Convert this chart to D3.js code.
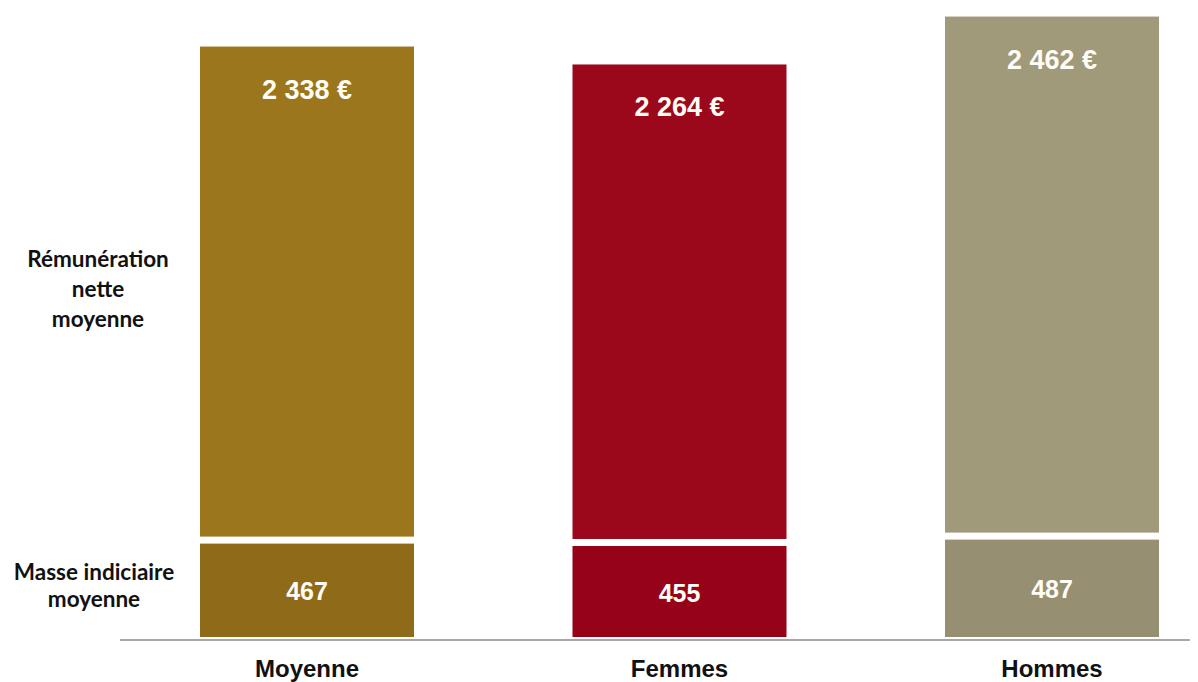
<!DOCTYPE html>
<html lang="fr">
<head>
<meta charset="UTF-8">
<title>Rémunération</title>
<script src="https://d3js.org/d3.v7.min.js"></script>
<style>
  body { margin: 0; background: #fff; }
  svg text { font-family: "Liberation Sans", Arial, sans-serif; font-weight: bold; }
  .side { font-family: Lato, "Open Sans", sans-serif; fill: #111; }
</style>
</head>
<body>
<script>
  // data
  var categories = ["Moyenne", "Femmes", "Hommes"]
  var remuneration = [2338, 2264, 2462]   // rémunération nette moyenne (€)
  var masse = [467, 455, 487]             // masse indiciaire moyenne
  var remLabels = ["2 338 €", "2 264 €", "2 462 €"]
  var topColors = ["#9c761c", "#9b081c", "#a0997a"]
  var bottomColors = ["#8f6a19", "#960218", "#968f72"]

  var W = 1198, H = 682
  var baseY = 637
  var gap = 7

  const svg = d3.select("body").append("svg")
    .attr("width", W)
    .attr("height", H)

  var x = d3.scaleBand()
    .domain(categories)
    .range([200, 1159])
    .paddingInner(0.4255)
    .paddingOuter(0)

  // two stacked blocks, each with its own linear scale (px height)
  var hMasse = d3.scaleLinear().domain([0, 500]).range([0, 100])
  var hRem = d3.scaleLinear().domain([0, 2500]).range([0, 524])

  var rows = categories.map(function (c, i) {
    var mTop = baseY - hMasse(masse[i])
    var rBottom = mTop - gap
    var rTop = rBottom - hRem(remuneration[i])
    return { cat: c, i: i, mTop: mTop, rBottom: rBottom, rTop: rTop }
  })

  // bottom block
  svg.selectAll(".masse")
    .data(rows)
    .enter().append("rect")
    .attr("class", "masse")
    .attr("x", d => x(d.cat))
    .attr("width", x.bandwidth())
    .attr("y", d => d.mTop)
    .attr("height", d => baseY - d.mTop)
    .attr("fill", d => bottomColors[d.i])

  // top block
  svg.selectAll(".rem")
    .data(rows)
    .enter().append("rect")
    .attr("class", "rem")
    .attr("x", d => x(d.cat))
    .attr("width", x.bandwidth())
    .attr("y", d => d.rTop)
    .attr("height", d => d.rBottom - d.rTop)
    .attr("fill", d => topColors[d.i])

  // value labels
  svg.selectAll(".remlab")
    .data(rows)
    .enter().append("text")
    .attr("x", d => x(d.cat) + x.bandwidth() / 2)
    .attr("y", d => d.rTop + 52)
    .attr("text-anchor", "middle")
    .attr("fill", "#fffdf5")
    .style("font-size", "27px")
    .text(d => remLabels[d.i])

  svg.selectAll(".maslab")
    .data(rows)
    .enter().append("text")
    .attr("x", d => x(d.cat) + x.bandwidth() / 2)
    .attr("y", d => (d.mTop + baseY) / 2 + 10)
    .attr("text-anchor", "middle")
    .attr("fill", "#fffdf5")
    .style("font-size", "25px")
    .text(d => masse[d.i])

  // baseline
  svg.append("line")
    .attr("x1", 120).attr("x2", 1190)
    .attr("y1", 640).attr("y2", 640)
    .attr("stroke", "#8a8a8a")
    .attr("stroke-width", 1.5)

  // category axis
  var axis = svg.append("g")
    .attr("transform", "translate(0,652)")
    .call(d3.axisBottom(x).tickSize(0).tickPadding(0))
  axis.select(".domain").remove()
  axis.selectAll("text")
    .attr("fill", "#111")
    .attr("dy", "0")
    .attr("y", 25)
    .style("font-family", "'Liberation Sans', Arial, sans-serif")
    .style("font-weight", "bold")
    .style("font-size", "24px")

  // side labels
  var side1 = ["Rémunération", "nette", "moyenne"]
  var side2 = ["Masse indiciaire", "moyenne"]
  svg.selectAll(".s1")
    .data(side1)
    .enter().append("text")
    .attr("class", "side")
    .attr("x", 98)
    .attr("y", (d, i) => 267 + i * 30)
    .attr("text-anchor", "middle")
    .style("font-size", "22.5px")
    .text(d => d)
  svg.selectAll(".s2")
    .data(side2)
    .enter().append("text")
    .attr("class", "side")
    .attr("x", 94)
    .attr("y", (d, i) => 580 + i * 27)
    .attr("text-anchor", "middle")
    .style("font-size", "22.5px")
    .text(d => d)
</script>
</body>
</html>
